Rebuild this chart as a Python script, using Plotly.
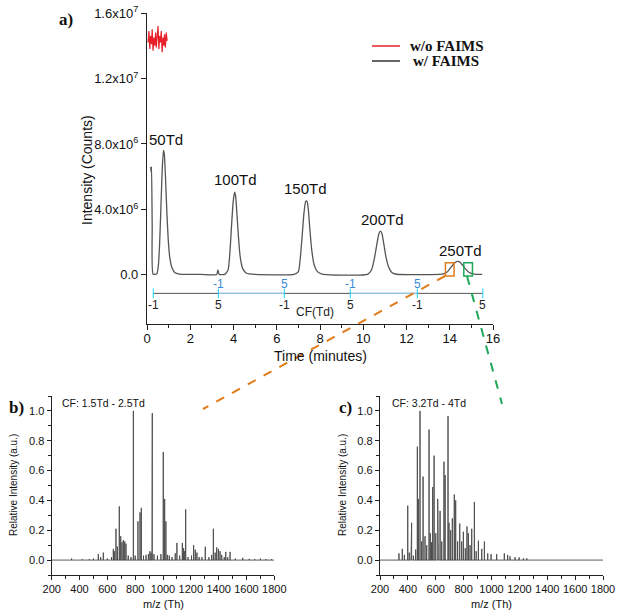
import plotly.graph_objects as go

# ---------------- data ----------------
# Panel a: chromatogram with FAIMS (time in minutes, intensity in counts)
faims_time = [0.17, 0.19, 0.21, 0.24, 0.28, 0.45, 0.52, 0.58, 0.64, 0.70, 0.76, 0.80, 0.86, 0.92, 0.98,
              1.05, 1.15, 1.28, 1.50, 2.50, 3.22, 3.28, 3.34, 3.60, 3.75, 3.83, 3.91, 3.98, 4.05, 4.10,
              4.16, 4.23, 4.31, 4.42, 4.60, 5.00, 6.80, 7.00, 7.08, 7.17, 7.26, 7.34, 7.40, 7.46, 7.53,
              7.62, 7.73, 7.88, 8.10, 10.20, 10.38, 10.50, 10.62, 10.72, 10.80, 10.87, 10.95, 11.05,
              11.17, 11.32, 11.55, 13.50, 13.75, 13.90, 14.05, 14.20, 14.35, 14.45, 14.58, 14.72, 14.87,
              15.05, 15.25, 15.50]
faims_intensity = [6.6e6, 6.3e6, 6.6e6, 3.0e6, 0.05e6, 0.05e6, 0.5e6, 1.8e6, 4.0e6, 6.3e6, 7.6e6, 7.4e6,
                   5.8e6, 3.8e6, 2.2e6, 1.1e6, 0.45e6, 0.15e6, 0.05e6, 0.03e6, 0.03e6, 0.3e6, 0.03e6,
                   0.03e6, 0.3e6, 1.3e6, 3.0e6, 4.4e6, 5.05e6, 4.8e6, 3.7e6, 2.3e6, 1.1e6, 0.4e6, 0.1e6,
                   0.03e6, 0.03e6, 0.2e6, 0.9e6, 2.3e6, 3.8e6, 4.5e6, 4.5e6, 4.0e6, 2.8e6, 1.5e6, 0.6e6,
                   0.2e6, 0.05e6, 0.03e6, 0.3e6, 0.9e6, 1.8e6, 2.5e6, 2.67e6, 2.5e6, 1.9e6, 1.1e6, 0.5e6,
                   0.15e6, 0.04e6, 0.03e6, 0.08e6, 0.2e6, 0.45e6, 0.7e6, 0.82e6, 0.8e6, 0.62e6, 0.38e6,
                   0.18e6, 0.06e6, 0.03e6, 0.03e6]

# Panel a: without FAIMS (noisy plateau)
nofaims_time = [0.05, 0.09, 0.13, 0.17, 0.21, 0.24, 0.28, 0.32, 0.36, 0.40, 0.43, 0.47, 0.51, 0.55,
                0.59, 0.62, 0.66, 0.70, 0.74, 0.78, 0.81, 0.85, 0.89, 0.93]
nofaims_intensity = [14.2e6, 14.9e6, 13.8e6, 14.6e6, 14.1e6, 15.0e6, 13.7e6, 14.5e6, 14.0e6, 14.8e6,
                     13.9e6, 14.4e6, 15.2e6, 13.8e6, 14.6e6, 14.2e6, 14.9e6, 13.6e6, 14.5e6, 14.0e6,
                     14.7e6, 13.9e6, 14.8e6, 14.3e6]

series_names = ["w/o FAIMS", "w/ FAIMS"]
series_colors = ["#e8202a", "#555555"]

peak_labels = ["50Td", "100Td", "150Td", "200Td", "250Td"]
peak_label_time = [0.9, 4.08, 7.33, 10.9, 14.5]
peak_label_int = [8.25e6, 5.85e6, 5.3e6, 3.4e6, 1.48e6]

# CF (Td) scan axis drawn inside panel a
cf_tick_time = [0.29, 3.30, 6.35, 9.40, 12.50, 15.53]
cf_labels_lower = ["-1", "5", "-1", "5", "-1", "5"]
cf_labels_upper = ["", "-1", "5", "-1", "5", ""]
cf_level = -1.13e6

# Zoom windows (minutes)
orange_window = [13.8, 14.2]
green_window = [14.65, 15.05]

# Panel b spectrum (m/z, relative intensity), CF 1.5-2.5 Td
b_mz = [300, 343, 420, 470, 500, 535, 552, 571, 600, 630, 643, 650, 662, 672, 686, 696, 705, 715, 725,
        734, 750, 770, 787, 800, 820, 835, 844, 860, 878, 895, 906, 914, 921, 923, 935, 960, 985, 1002,
        1012, 1021, 1031, 1045, 1065, 1088, 1100, 1120, 1139, 1148, 1156, 1163, 1180, 1205, 1220, 1232,
        1244, 1260, 1280, 1304, 1330, 1350, 1362, 1375, 1386, 1398, 1410, 1422, 1440, 1451, 1465, 1482,
        1520, 1573, 1620, 1660, 1700, 1740, 1780]
b_int = [0.005, 0.01, 0.005, 0.006, 0.01, 0.04, 0.02, 0.05, 0.01, 0.02, 0.075, 0.06, 0.21, 0.09, 0.36,
         0.16, 0.12, 0.135, 0.125, 0.11, 0.03, 0.02, 1.0, 0.03, 0.26, 0.32, 0.35, 0.03, 0.035, 0.04,
         0.06, 0.05, 0.75, 0.985, 0.04, 0.03, 0.04, 0.725, 0.41, 0.26, 0.035, 0.03, 0.02, 0.045, 0.115,
         0.03, 0.115, 0.08, 0.06, 0.34, 0.02, 0.03, 0.10, 0.07, 0.05, 0.02, 0.02, 0.09, 0.02, 0.035, 0.21,
         0.05, 0.085, 0.075, 0.06, 0.035, 0.02, 0.055, 0.02, 0.055, 0.01, 0.015, 0.008, 0.006, 0.01,
         0.006, 0.005]

# Panel c spectrum (m/z, relative intensity), CF 3.2-4 Td
c_mz = [336, 360, 375, 399, 410, 422, 427, 439, 456, 468, 475, 487, 499, 509, 523, 535, 552, 561, 570,
        578, 588, 600, 614, 619, 631, 643, 659, 667, 688, 695, 707, 719, 733, 743, 757, 772, 786, 798,
        812, 824, 834, 846, 858, 877, 890, 906, 930, 949, 973, 997, 1037, 1092, 1116, 1133, 1169, 1198,
        1229, 1253]
c_int = [0.045, 0.075, 0.035, 0.365, 0.05, 0.175, 0.25, 0.03, 0.07, 0.76, 0.41, 1.0, 0.125, 0.56, 0.16,
         0.10, 0.875, 0.18, 0.12, 0.49, 0.70, 0.18, 0.41, 0.35, 0.33, 0.125, 0.66, 0.57, 0.965, 0.25,
         0.20, 0.28, 0.44, 0.40, 0.125, 0.245, 0.125, 0.19, 0.08, 0.225, 0.18, 0.10, 0.21, 0.39, 0.06,
         0.13, 0.075, 0.125, 0.045, 0.04, 0.04, 0.045, 0.035, 0.025, 0.02, 0.018, 0.012, 0.012]

mz_range = [200, 1800]

# ---------------- helpers ----------------
def stick_trace(mz, inten, lo, hi):
    xs, ys = [lo], [0]
    for m, v in sorted(zip(mz, inten)):
        xs += [m, m, m]
        ys += [0, v, 0]
    xs.append(hi)
    ys.append(0)
    return xs, ys

W, H = 624, 615
def px(x):
    return x / W
def py(y):
    return 1 - y / H

SANS = "Liberation Sans, Arial, sans-serif"
SERIF = "Liberation Serif, Times New Roman, serif"

fig = go.Figure()

# ---- panel a traces ----
fig.add_trace(go.Scatter(x=nofaims_time, y=nofaims_intensity, mode="lines",
                         line=dict(color=series_colors[0], width=1.2), name=series_names[0],
                         showlegend=False, xaxis="x", yaxis="y"))
fig.add_trace(go.Scatter(x=faims_time, y=faims_intensity, mode="lines",
                         line=dict(color=series_colors[1], width=1.3, shape="spline", smoothing=0.5),
                         name=series_names[1], showlegend=False, xaxis="x", yaxis="y"))

# CF axis line (gray) with blue segments and ticks
fig.add_trace(go.Scatter(x=[cf_tick_time[0], cf_tick_time[-1]], y=[cf_level, cf_level], mode="lines",
                         line=dict(color="#555555", width=1), showlegend=False, hoverinfo="skip",
                         xaxis="x", yaxis="y"))
for a, b in [(cf_tick_time[1], cf_tick_time[2]), (cf_tick_time[3], cf_tick_time[4])]:
    fig.add_trace(go.Scatter(x=[a, b], y=[cf_level, cf_level], mode="lines",
                             line=dict(color="#8ec3ea", width=1.4), showlegend=False,
                             hoverinfo="skip", xaxis="x", yaxis="y"))
fig.add_trace(go.Scatter(x=cf_tick_time, y=[cf_level] * len(cf_tick_time), mode="markers",
                         marker=dict(symbol="line-ns-open", size=7, line=dict(color="#444", width=1)),
                         showlegend=False, hoverinfo="skip", xaxis="x", yaxis="y"))

# ---- panel b & c spectra ----
bx, by = stick_trace(b_mz, b_int, *mz_range)
fig.add_trace(go.Scatter(x=bx, y=by, mode="lines", line=dict(color="#4a4a4a", width=0.9),
                         showlegend=False, xaxis="x2", yaxis="y2"))
cx, cy = stick_trace(c_mz, c_int, *mz_range)
fig.add_trace(go.Scatter(x=cx, y=cy, mode="lines", line=dict(color="#4a4a4a", width=0.9),
                         showlegend=False, xaxis="x3", yaxis="y3"))

# ---------------- annotations ----------------
ann = []
for lab, t, v in zip(peak_labels, peak_label_time, peak_label_int):
    ann.append(dict(x=t, y=v, xref="x", yref="y", text=lab, showarrow=False,
                    font=dict(family=SANS, size=15, color="#111")))
for t, lab in zip(cf_tick_time, cf_labels_lower):
    ann.append(dict(x=t, y=-1.85e6, xref="x", yref="y", text=lab, showarrow=False,
                    font=dict(family=SANS, size=12, color="#222")))
for t, lab in zip(cf_tick_time, cf_labels_upper):
    if lab:
        ann.append(dict(x=t, y=-0.55e6, xref="x", yref="y", text=lab, showarrow=False,
                        font=dict(family=SANS, size=12, color="#3a8ad8")))
ann.append(dict(x=7.78, y=-2.25e6, xref="x", yref="y", text="CF(Td)", showarrow=False,
                font=dict(family=SANS, size=12, color="#222")))


def paper_text(x, y, text, size, family=SANS, angle=0, xanchor="center"):
    return dict(x=px(x), y=py(y), xref="paper", yref="paper", text=text, textangle=angle,
                xanchor=xanchor, yanchor="middle", showarrow=False,
                font=dict(family=family, size=size, color="#111"))


# manual legend
legend_y = [46, 61]
for name, ly in zip(series_names, legend_y):
    ann.append(paper_text(446, ly, "<b>" + name + "</b>", 15, SERIF))

# axis titles & panel labels
ann += [
    paper_text(87, 170, "Intensity (Counts)", 14, angle=-90),
    paper_text(320, 356, "Time (minutes)", 14),
    paper_text(66, 20, "<b>a)</b>", 17, SERIF),
    paper_text(16, 407, "<b>b)</b>", 17, SERIF),
    paper_text(345, 407, "<b>c)</b>", 17, SERIF),
    paper_text(60, 403, "CF: 1.5Td - 2.5Td", 10.5, xanchor="left"),
    paper_text(390, 403, "CF: 3.2Td - 4Td", 10.5, xanchor="left"),
    paper_text(13, 485, "Relative Intensity (a.u.)", 10, angle=-90),
    paper_text(342, 485, "Relative Intensity (a.u.)", 10, angle=-90),
    paper_text(163, 604, "m/z (Th)", 11),
    paper_text(491, 604, "m/z (Th)", 11),
]

# ---------------- shapes ----------------
shapes = [
    dict(type="line", xref="paper", yref="paper", x0=px(372), x1=px(400), y0=py(legend_y[0]),
         y1=py(legend_y[0]), line=dict(color=series_colors[0], width=1.5)),
    dict(type="line", xref="paper", yref="paper", x0=px(372), x1=px(400), y0=py(legend_y[1]),
         y1=py(legend_y[1]), line=dict(color="#333333", width=1.5)),
    dict(type="rect", xref="x", yref="y", x0=orange_window[0], x1=orange_window[1], y0=-0.06e6, y1=0.74e6,
         line=dict(color="#e07b1a", width=1.5)),
    dict(type="rect", xref="x", yref="y", x0=green_window[0], x1=green_window[1], y0=-0.06e6, y1=0.74e6,
         line=dict(color="#1fa85a", width=1.5)),
    dict(type="line", xref="paper", yref="paper", x0=px(445), y0=py(276), x1=px(203), y1=py(409),
         line=dict(color="#e07b1a", width=2, dash="dash")),
    dict(type="line", xref="paper", yref="paper", x0=px(467), y0=py(276), x1=px(502), y1=py(404),
         line=dict(color="#1fa85a", width=2, dash="dash")),
]

axis_common = dict(showline=True, linecolor="#222", linewidth=1.3, ticks="outside", tickcolor="#222",
                   ticklen=5, tickwidth=1.2, showgrid=False, zeroline=False, automargin=False,
                   tickangle=0, tickfont=dict(family=SANS, size=13, color="#111"))

y_a_vals = [0, 4e6, 8e6, 12e6, 16e6]
y_a_text = ["0.0", "4.0x10<sup>6</sup>", "8.0x10<sup>6</sup>", "1.2x10<sup>7</sup>", "1.6x10<sup>7</sup>"]

small_axis = dict(axis_common)
small_axis["tickfont"] = dict(family=SANS, size=11, color="#111")
small_axis["ticklen"] = 4

fig.update_layout(
    width=W, height=H, margin=dict(l=0, r=0, t=0, b=0, autoexpand=False),
    paper_bgcolor="white", plot_bgcolor="white",
    xaxis=dict(axis_common, domain=[px(147), px(493)], range=[0, 16], dtick=2, tick0=0,
               ticklabelstandoff=-3,
               minor=dict(dtick=1, ticks="outside", ticklen=3, tickcolor="#222"), anchor="y"),
    yaxis=dict(axis_common, domain=[py(324), py(13)], range=[-3e6, 16e6], tickvals=y_a_vals,
               ticktext=y_a_text, anchor="x"),
    xaxis2=dict(small_axis, domain=[px(51.7), px(274.3)], range=mz_range, dtick=200, tick0=200,
                ticklabelstandoff=0,
                minor=dict(dtick=100, ticks="outside", ticklen=2.5, tickcolor="#222"), anchor="y2"),
    yaxis2=dict(small_axis, domain=[py(575), py(396)], range=[-0.1, 1.1], dtick=0.2, tick0=0,
                tickformat=".1f", minor=dict(dtick=0.1, ticks="outside", ticklen=2.5, tickcolor="#222"),
                anchor="x2"),
    xaxis3=dict(small_axis, domain=[px(380), px(603)], range=mz_range, dtick=200, tick0=200,
                ticklabelstandoff=0,
                minor=dict(dtick=100, ticks="outside", ticklen=2.5, tickcolor="#222"), anchor="y3"),
    yaxis3=dict(small_axis, domain=[py(575), py(396)], range=[-0.1, 1.1], dtick=0.2, tick0=0,
                tickformat=".1f", minor=dict(dtick=0.1, ticks="outside", ticklen=2.5, tickcolor="#222"),
                anchor="x3"),
    annotations=ann, shapes=shapes, showlegend=False,
)

fig.write_html("out.html", config={"displayModeBar": False},
               post_script="document.body.style.margin='0';")
